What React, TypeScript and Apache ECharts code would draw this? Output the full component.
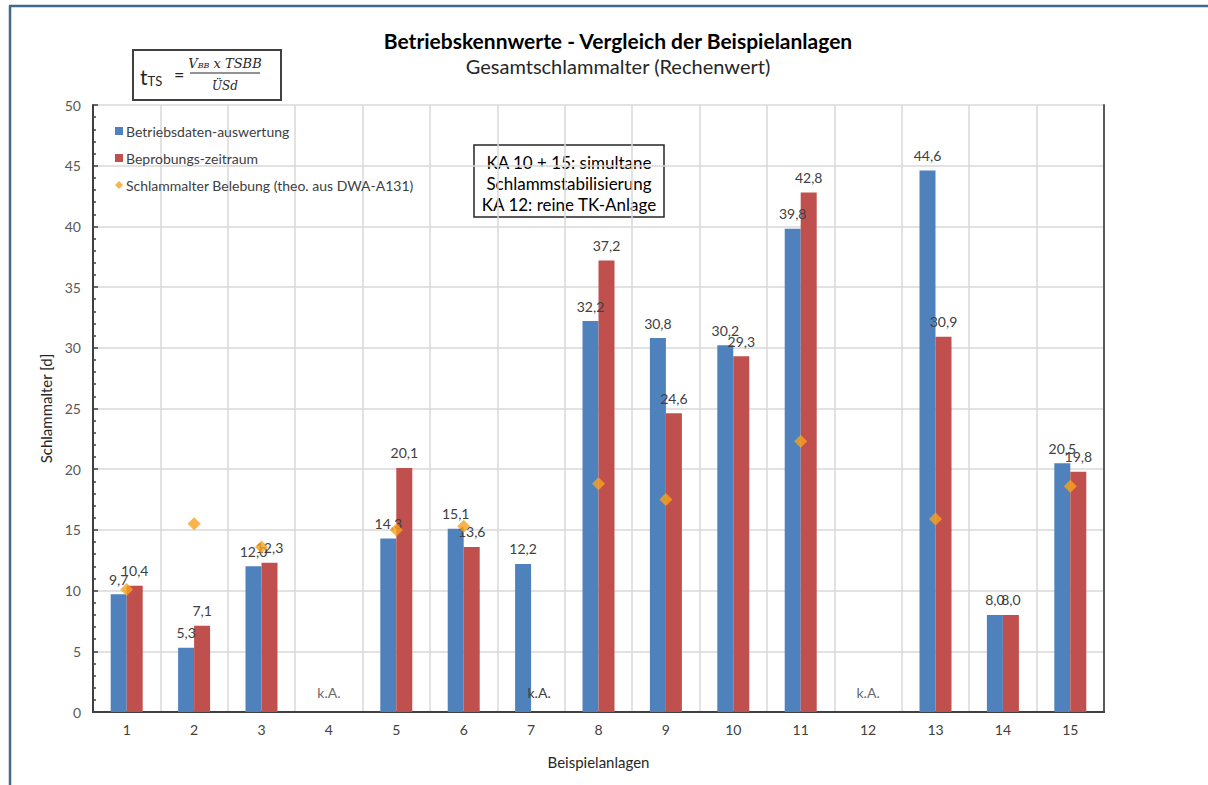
import React, { useEffect, useRef } from "react";
import * as echarts from "echarts";

const categories = ["1", "2", "3", "4", "5", "6", "7", "8", "9", "10", "11", "12", "13", "14", "15"];
const betriebsdaten: (number | null)[] = [9.7, 5.3, 12.0, null, 14.3, 15.1, 12.2, 32.2, 30.8, 30.2, 39.8, null, 44.6, 8.0, 20.5];
const beprobung: (number | null)[] = [10.4, 7.1, 12.3, null, 20.1, 13.6, null, 37.2, 24.6, 29.3, 42.8, null, 30.9, 8.0, 19.8];
const schlammalterTheo: (number | null)[] = [10.1, 15.5, 13.6, null, 15.0, 15.3, null, 18.8, 17.5, null, 22.3, null, 15.9, null, 18.6];
const keineAngabeBeide = ["4", "12"];
const keineAngabeRot = ["7"];
const yTicks = { min: 0, max: 50, interval: 5 };

const FONT = "Lato, 'Open Sans', sans-serif";
const fmt = (v: number) => v.toFixed(1).replace(".", ",");

export default function App() {
  const ref = useRef<HTMLDivElement>(null);
  useEffect(() => {
    if (!ref.current) return;
    const chart = echarts.init(ref.current, null, { renderer: "svg" });
    const labelStyle = {
      show: true,
      position: "top" as const,
      distance: 8,
      fontSize: 14,
      color: "#404040",
      fontFamily: FONT,
      formatter: (p: any) => (p.value == null ? "" : fmt(Number(p.value))),
    };
    const redData = beprobung.map((v, i) =>
      keineAngabeRot.includes(categories[i])
        ? { value: 0, label: { formatter: "k.A.", distance: 13 } }
        : v
    );
    chart.setOption({
      animation: false,
      backgroundColor: "#ffffff",
      textStyle: { fontFamily: FONT },
      title: {
        text: "Betriebskennwerte - Vergleich der Beispielanlagen",
        subtext: "Gesamtschlammalter (Rechenwert)",
        left: 613,
        top: 25,
        textAlign: "center",
        itemGap: 5,
        textStyle: { fontSize: 21, fontWeight: "bold", color: "#000", fontFamily: FONT },
        subtextStyle: { fontSize: 20, color: "#262626", fontFamily: FONT },
      },
      legend: {
        orient: "vertical",
        left: 110,
        top: 119,
        itemWidth: 8,
        itemHeight: 8,
        itemGap: 13,
        textStyle: { fontSize: 14, color: "#404040", fontFamily: FONT, padding: [0, 0, 0, -2] },
        data: [
          { name: "Betriebsdaten-auswertung", icon: "rect" },
          { name: "Beprobungs-zeitraum", icon: "rect" },
          { name: "Schlammalter Belebung (theo. aus DWA-A131)", icon: "diamond" },
        ],
      },
      grid: { left: 93, right: 104, top: 105, bottom: 73, containLabel: false },
      xAxis: [
        {
          type: "category",
          data: categories,
          name: "Beispielanlagen",
          nameLocation: "middle",
          nameGap: 42,
          nameTextStyle: { fontSize: 15, color: "#262626", fontFamily: FONT },
          axisLine: { show: true, lineStyle: { color: "#404040", width: 2 } },
          axisTick: { show: false },
          axisLabel: { fontSize: 14, color: "#404040", margin: 10, fontFamily: FONT },
          splitLine: { show: true, interval: 0, lineStyle: { color: "#D9D9D9", width: 1.5 } },
        },
        {
          type: "category",
          data: categories,
          position: "top",
          axisLine: { show: true, lineStyle: { color: "#404040", width: 2 } },
          axisTick: { show: false },
          axisLabel: { show: false },
          splitLine: { show: false },
        },
      ],
      yAxis: [
        {
          type: "value",
          min: yTicks.min,
          max: yTicks.max,
          interval: yTicks.interval,
          name: "Schlammalter [d]",
          nameLocation: "middle",
          nameGap: 40,
          nameRotate: 90,
          nameTextStyle: { fontSize: 15, color: "#262626", fontFamily: FONT },
          axisLine: { show: true, lineStyle: { color: "#404040", width: 2 } },
          axisTick: { show: true, inside: true, length: 5, lineStyle: { color: "#404040", width: 1.5 } },
          minorTick: { show: true, splitNumber: 5, length: 3, lineStyle: { color: "#404040", width: 1.5 } },
          axisLabel: { fontSize: 14, color: "#595959", margin: 12, fontFamily: FONT },
          splitLine: { show: true, lineStyle: { color: "#D9D9D9", width: 1.5 } },
        },
        {
          type: "value",
          min: yTicks.min,
          max: yTicks.max,
          interval: yTicks.interval,
          position: "right",
          axisLine: { show: true, lineStyle: { color: "#595959", width: 2 } },
          axisTick: { show: false },
          axisLabel: { show: false },
          splitLine: { show: false },
        },
      ],
      series: [
        {
          name: "Betriebsdaten-auswertung",
          type: "bar",
          data: betriebsdaten,
          barWidth: 16,
          barGap: "0%",
          itemStyle: { color: "#4F81BD" },
          label: labelStyle,
          z: 2,
        },
        {
          name: "Beprobungs-zeitraum",
          type: "bar",
          data: redData,
          barWidth: 16,
          barGap: "0%",
          itemStyle: { color: "#C0504D" },
          label: labelStyle,
          z: 2,
        },
        {
          name: "Schlammalter Belebung (theo. aus DWA-A131)",
          type: "scatter",
          data: schlammalterTheo,
          symbol: "diamond",
          symbolSize: 13,
          itemStyle: { color: "#F9A11B" },
          z: 5,
        },
        {
          name: "k.A.",
          type: "scatter",
          data: categories.map((c) => (keineAngabeBeide.includes(c) ? 0 : null)),
          symbolSize: 0,
          silent: true,
          label: {
            show: true,
            position: "top",
            distance: 13,
            formatter: "k.A.",
            fontSize: 14,
            color: "#404040",
            fontFamily: FONT,
          },
          z: 6,
        },
      ],
      graphic: [
        {
          type: "line",
          shape: { x1: 9, y1: 6, x2: 1208, y2: 6 },
          style: { stroke: "#41698A", lineWidth: 2.5 },
        },
        {
          type: "line",
          shape: { x1: 10, y1: 6, x2: 10, y2: 785 },
          style: { stroke: "#41698A", lineWidth: 2.5 },
        },
        {
          type: "group",
          children: [
            {
              type: "rect",
              shape: { x: 133, y: 50, width: 148, height: 50 },
              style: { fill: "#fff", stroke: "#404040", lineWidth: 2 },
            },
            {
              type: "text",
              x: 140,
              y: 76,
              style: {
                text: "{t|t}{s|TS}",
                verticalAlign: "middle",
                rich: {
                  t: { fontSize: 21, fontFamily: FONT, fill: "#262626" },
                  s: { fontSize: 13, fontFamily: FONT, fill: "#262626", padding: [9, 0, 0, 0] },
                },
              },
            },
            {
              type: "text",
              x: 174,
              y: 74,
              style: { text: "=", fontSize: 18, fontFamily: FONT, fill: "#262626", verticalAlign: "middle" },
            },
            {
              type: "text",
              x: 225,
              y: 63,
              style: {
                text: "{a|V}{b|BB}{a| x TSBB}",
                align: "center",
                verticalAlign: "middle",
                rich: {
                  a: { fontSize: 13, fontStyle: "italic", fontFamily: "'DejaVu Serif', serif", fill: "#262626" },
                  b: { fontSize: 8, fontStyle: "italic", fontFamily: "'DejaVu Serif', serif", fill: "#262626", padding: [5, 0, 0, 0] },
                },
              },
            },
            {
              type: "line",
              shape: { x1: 190, y1: 73, x2: 260, y2: 73 },
              style: { stroke: "#262626", lineWidth: 1 },
            },
            {
              type: "text",
              x: 225,
              y: 86,
              style: {
                text: "ÜSd",
                align: "center",
                verticalAlign: "middle",
                fontSize: 12,
                fontStyle: "italic",
                fontFamily: "'DejaVu Serif', serif",
                fill: "#262626",
              },
            },
          ],
        },
        {
          type: "group",
          z: 10,
          children: [
            {
              type: "rect",
              shape: { x: 474, y: 145, width: 190, height: 72 },
              style: { fill: "#fff", stroke: "#262626", lineWidth: 1.5 },
            },
            {
              type: "text",
              x: 569,
              y: 183,
              style: {
                text: "KA 10 + 15: simultane\nSchlammstabilisierung\nKA 12: reine TK-Anlage",
                align: "center",
                verticalAlign: "middle",
                fontSize: 17,
                lineHeight: 21,
                fontFamily: FONT,
                fill: "#000",
              },
            },
          ],
        },
      ],
    });
    return () => chart.dispose();
  }, []);
  return (
    <div
      ref={ref}
      style={{ position: "fixed", left: 0, top: 0, width: 1208, height: 785 }}
    />
  );
}
